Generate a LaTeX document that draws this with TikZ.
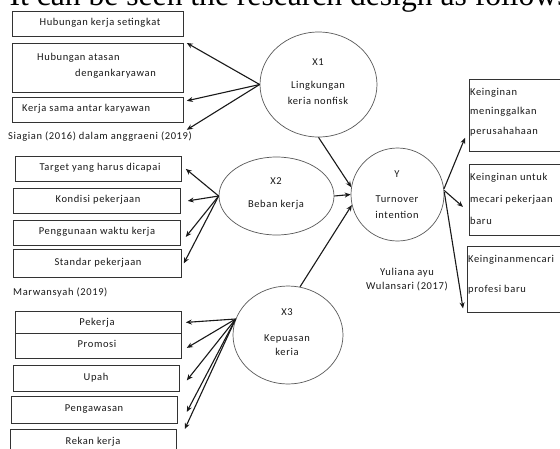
\documentclass[tikz,border=0pt]{standalone}
\usepackage{fontspec}
\setmainfont{Carlito}[LetterSpace=6]
\newfontfamily\hdrfont{Liberation Serif}
\usetikzlibrary{arrows.meta,shapes.geometric}
\tikzset{
  box/.style={draw=black!80, line width=0.8pt, rectangle, inner sep=0, anchor=north west},
  ell/.style={draw=black!65, line width=0.7pt, ellipse, inner sep=0},
  lbl/.style={inner sep=0, anchor=mid, font=\fontsize{10.5}{12}\selectfont, text=black!90},
  lbll/.style={lbl, anchor=mid west},
  con/.style={line width=1.1pt, draw=black!90, -{Stealth[length=6pt,width=5pt]}},
}
\begin{document}
\begin{tikzpicture}[x=1pt,y=-1pt]
\useasboundingbox (0,0) rectangle (560,448);
\clip (0,0) rectangle (560,448);
\fill[white] (0,0) rectangle (560,448);
% header
\node[inner sep=0, anchor=base west, font=\hdrfont\fontsize{31.6}{34}\selectfont] (hdr) at (9.5,5) {It can be seen the research design as follows};
% group 1
\node[box, minimum width=171, minimum height=25] (b1) at (12,11) {};
\node[box, minimum width=171, minimum height=49] (b2) at (12,43) {};
\node[box, minimum width=171, minimum height=25] (b3) at (12,97) {};
\node[lbl] (tb1) at (100,23.5) {Hubungan kerja setingkat};
\node[lbll] (tb2a) at (37,58) {Hubungan atasan};
\node[lbll] (tb2b) at (75,74) {dengankaryawan};
\node[lbll] (tb3) at (22,109.5) {Kerja sama antar karyawan};
\node[lbll] (cap1) at (8,137) {Siagian (2016) dalam anggraeni (2019)};
% group 2
\node[box, minimum width=166, minimum height=25] (c1) at (15,156) {};
\node[box, minimum width=167, minimum height=25] (c2) at (13,188) {};
\node[box, minimum width=167, minimum height=25] (c3) at (13,220) {};
\node[box, minimum width=168, minimum height=28] (c4) at (13,249) {};
\node[lbl] (tc1) at (100,168.5) {Target yang harus dicapai};
\node[lbl] (tc2) at (98,200.5) {Kondisi pekerjaan};
\node[lbl] (tc3) at (97,232.5) {Penggunaan waktu kerja};
\node[lbl] (tc4) at (98,263) {Standar pekerjaan};
\node[lbll] (cap2) at (13,293) {Marwansyah (2019)};
% group 3
\node[box, minimum width=166, minimum height=22] (d1) at (15,311) {};
\node[box, minimum width=166, minimum height=25] (d2) at (15,333) {};
\node[box, minimum width=166, minimum height=26] (d3) at (13,365) {};
\node[box, minimum width=166, minimum height=27] (d4) at (11,396) {};
\node[box, minimum width=166, minimum height=27] (d5) at (10,429) {};
\node[lbl] (td1) at (97,323) {Pekerja};
\node[lbl] (td2) at (97,345.5) {Promosi};
\node[lbl] (td3) at (96,378) {Upah};
\node[lbl] (td4) at (94,409.5) {Pengawasan};
\node[lbl] (td5) at (93,442) {Rekan kerja};
% ellipses
\node[ell, minimum width=117, minimum height=105] (X1) at (318.5,84.5) {};
\node[lbl] (tx1a) at (318,63) {X1};
\node[lbl] (tx1b) at (318,86) {Lingkungan};
\node[lbl] (tx1c) at (318,102) {keria nonfisk};
\node[ell, minimum width=115, minimum height=78] (X2) at (276.5,196) {};
\node[lbl] (tx2a) at (276,182) {X2};
\node[lbl] (tx2b) at (276,205) {Beban kerja};
\node[ell, minimum width=93, minimum height=93] (Y) at (397.5,194.5) {};
\node[lbl] (tya) at (397,175) {Y};
\node[lbl] (tyb) at (397,200) {Turnover};
\node[lbl] (tyc) at (397,216) {intention};
\node[ell, minimum width=110, minimum height=98] (X3) at (288,335) {};
\node[lbl] (tx3a) at (287,313) {X3};
\node[lbl] (tx3b) at (287,339) {Kepuasan};
\node[lbl] (tx3c) at (287,353) {keria};
\node[lbl] (cap3a) at (407,273) {Yuliana ayu};
\node[lbl] (cap3b) at (407,287) {Wulansari (2017)};
% right boxes
\node[box, minimum width=96, minimum height=72] (r1) at (469,79) {};
\node[box, minimum width=96, minimum height=71] (r2) at (469,164) {};
\node[box, minimum width=98, minimum height=66] (r3) at (467,246) {};
\node[lbll] (tr1a) at (470,93) {Keinginan};
\node[lbll] (tr1b) at (470,112) {meninggalkan};
\node[lbll] (tr1c) at (470,132) {perusahahaan};
\node[lbll] (tr2a) at (470,178) {Keinginan untuk};
\node[lbll] (tr2b) at (470,200) {mecari pekerjaan};
\node[lbll] (tr2c) at (470,222) {baru};
\node[lbll] (tr3a) at (468,260) {Keinginanmencari};
\node[lbll] (tr3b) at (468,290) {profesi baru};
% connectors X1
\draw[con] (X1.west) -- ([xshift=3]b2.north east);
\draw[con] (X1.west) -- ([xshift=3,yshift=-8]b2.south east);
\draw[con] (X1.west) -- ([xshift=3,yshift=-7]b3.south east);
% connectors X2
\draw[con] (X2.west) -- ([xshift=4]c1.east);
\draw[con] (X2.west) -- ([xshift=7]c2.east);
\draw[con] (X2.west) -- ([xshift=5,yshift=-4]c3.east);
\draw[con] (X2.west) -- ([xshift=2]c4.east);
% connectors X3
\draw[con] (X3.163) -- ([xshift=4]d1.east);
\draw[con] (X3.163) -- ([xshift=5,yshift=-2]d2.east);
\draw[con] (X3.163) -- ([xshift=7,yshift=-2]d3.east);
\draw[con] (X3.163) -- ([xshift=9,yshift=-2]d4.east);
\draw[con] (X3.163) -- ([xshift=8]d5.north east);
% to Y
\draw[con] (X1.south) -- (Y.171);
\draw[con] (X2.east) -- (Y.west);
\draw[con] (X3.76) -- (Y.193);
% from Y
\draw[con] (Y.7) -- ([xshift=-4,yshift=14]r1.south west);
\draw[con] (Y.5) -- ([xshift=-6,yshift=-7]r2.west);
\draw[con] (Y.3) -- ([xshift=-4,yshift=-29]r3.west);
\end{tikzpicture}
\end{document}
